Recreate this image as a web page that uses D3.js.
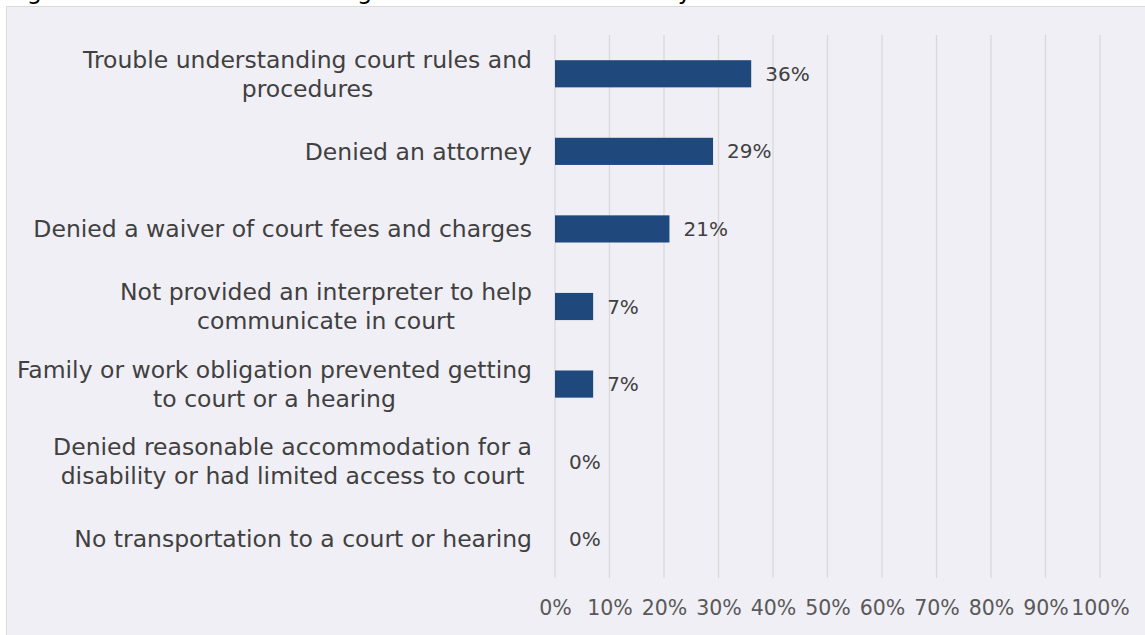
<!DOCTYPE html>
<html>
<head>
<meta charset="utf-8">
<script src="https://cdn.jsdelivr.net/npm/d3@7"></script>
<style>
  html, body { margin: 0; padding: 0; background: #fff; }
  svg { display: block; font-family: "DejaVu Sans", sans-serif; }
</style>
</head>
<body>
<svg id="chart" width="1145" height="635"></svg>
<script>
// chart values
const categories = [
  ['Trouble understanding court rules and', 'procedures'],
  ['Denied an attorney'],
  ['Denied a waiver of court fees and charges'],
  ['Not provided an interpreter to help', 'communicate in court'],
  ['Family or work obligation prevented getting', 'to court or a hearing'],
  ['Denied reasonable accommodation for a', 'disability or had limited access to court'],
  ['No transportation to a court or hearing']
];
const values = [36, 29, 21, 7, 7, 0, 0];
const xTicks = [0, 10, 20, 30, 40, 50, 60, 70, 80, 90, 100];
const title = 'Figure 4. Barriers to Accessing Court without an Attorney';

const W = 1145, H = 635;
const m = { top: 35, right: 45, bottom: 57, left: 555 };
const svg = d3.select('#chart');

// title sits mostly above the frame, only its descenders show (as in the reference)
svg.append('text')
  .attr('x', 8).attr('y', -1)
  .attr('font-size', 24)
  .attr('fill', '#000')
  .text(title);

// panel
svg.append('rect')
  .attr('x', 6.5).attr('y', 6.5)
  .attr('width', W).attr('height', H)
  .attr('fill', '#f0eff5')
  .attr('stroke', '#d9d9d9');

const x = d3.scaleLinear().domain([0, 100]).range([m.left, W - m.right]);
const y = d3.scaleBand()
  .domain(d3.range(categories.length))
  .range([m.top, H - m.bottom])
  .paddingInner(0.65).paddingOuter(0.325);

// grid
svg.append('g')
  .selectAll('line')
  .data(xTicks)
  .join('line')
  .attr('x1', d => x(d)).attr('x2', d => x(d))
  .attr('y1', m.top).attr('y2', H - m.bottom)
  .attr('stroke', '#d9d9d9')
  .attr('stroke-width', 1.3);

// bars
svg.append('g')
  .selectAll('rect')
  .data(values)
  .join('rect')
  .attr('x', x(0))
  .attr('y', (d, i) => y(i))
  .attr('width', d => x(d) - x(0))
  .attr('height', y.bandwidth())
  .attr('fill', '#1f497d');

// value labels
svg.append('g')
  .selectAll('text')
  .data(values)
  .join('text')
  .attr('x', d => x(d) + 14)
  .attr('y', (d, i) => y(i) + y.bandwidth() / 2)
  .attr('dy', '0.35em')
  .attr('font-size', 20)
  .attr('fill', '#404040')
  .text(d => d + '%');

// category labels: lines centred within block, block right-aligned
const labelRight = 532, lineH = 29;
const lg = svg.append('g');
categories.forEach((lines, i) => {
  const cy = y(i) + y.bandwidth() / 2;
  const t = lg.append('text')
    .attr('font-size', 23.5)
    .attr('fill', '#404040')
    .attr('text-anchor', 'middle');
  lines.forEach((s, j) => {
    t.append('tspan')
      .attr('y', cy + (j - (lines.length - 1) / 2) * lineH)
      .attr('dy', '0.35em')
      .text(s);
  });
  let w = 0;
  t.selectAll('tspan').each(function () { w = Math.max(w, this.getComputedTextLength()); });
  t.selectAll('tspan').attr('x', labelRight - w / 2);
});

// x axis labels
const xAxis = d3.axisBottom(x)
  .tickValues(xTicks)
  .tickFormat(d => d + '%')
  .tickSize(0)
  .tickPadding(22);
const ax = svg.append('g')
  .attr('transform', `translate(0,${H - m.bottom})`)
  .call(xAxis);
ax.select('.domain').remove();
ax.selectAll('text')
  .attr('font-family', '"DejaVu Sans", sans-serif')
  .attr('font-size', 20.5)
  .attr('fill', '#595959');
</script>
</body>
</html>
